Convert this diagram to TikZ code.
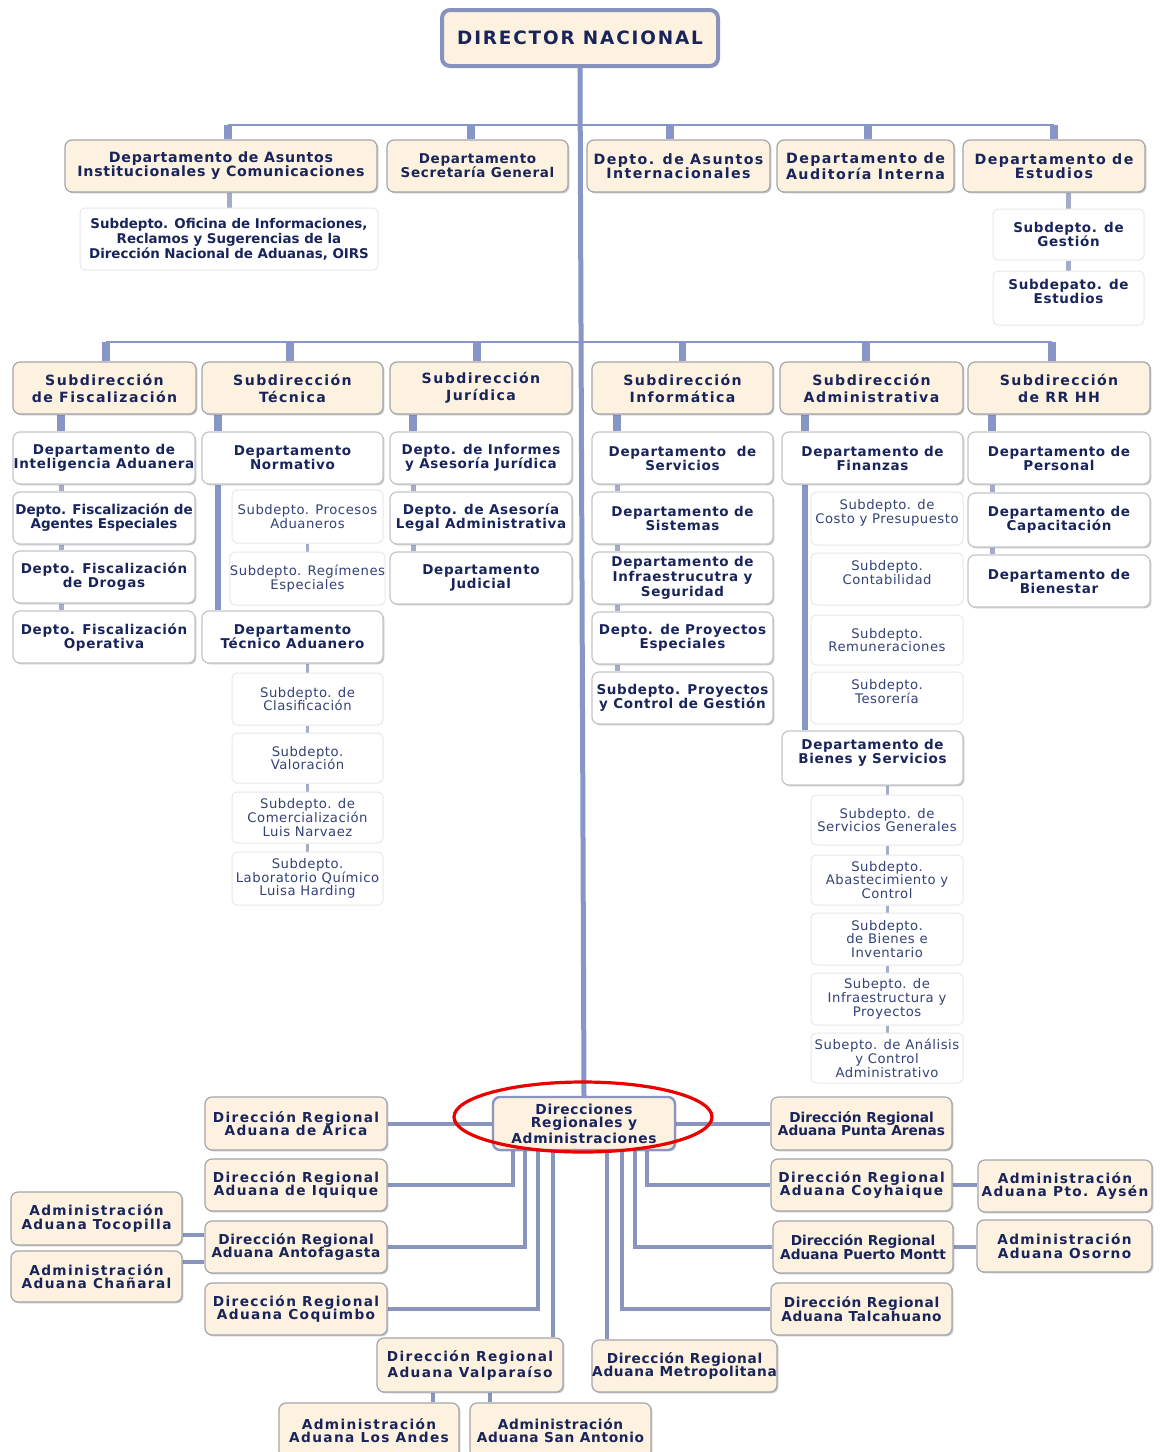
\documentclass[tikz,border=0pt]{standalone}
\usepackage{fontspec}
\setmainfont{DejaVu Sans}
\newfontfamily\trT{DejaVu Sans}
\newfontfamily\trM{DejaVu Sans}[LetterSpace=5]
\newfontfamily\trW{DejaVu Sans}[LetterSpace=10]
\newfontfamily\trR{DejaVu Sans}[LetterSpace=4]
\usetikzlibrary{backgrounds,shadows}
\definecolor{cream}{RGB}{253,242,224}
\definecolor{bord}{RGB}{165,165,172}
\definecolor{bordl}{RGB}{196,198,204}
\definecolor{faint}{RGB}{232,232,234}
\definecolor{navy}{RGB}{25,37,90}
\definecolor{subt}{RGB}{52,66,118}
\definecolor{lc}{RGB}{135,150,199}
\definecolor{lcl}{RGB}{165,172,202}
\definecolor{dirb}{RGB}{135,146,190}
\definecolor{conc}{RGB}{138,149,190}
\newcommand\sA{\fontsize{6.75}{7}\selectfont}
\newcommand\sW{\fontsize{7.1}{7}\selectfont}
\newcommand\sB{\fontsize{7.05}{8.5}\selectfont}
\newcommand\sC{\fontsize{6.85}{6.8}\selectfont}
\newcommand\sR{\fontsize{6.6}{6.9}\selectfont}
\newcommand\B[7]{\node[#2, minimum width={(#5-(#3))*0.5pt}, minimum height={(#6-(#4))*0.5pt}] (#1) at ({(#3+#5)/2},{(#4+#6)/2}) {#7};}
\newcommand\up{\\\mbox{}}
\tikzset{
 base/.style={inner sep=0pt, align=center, text=navy},
 shad/.style={drop shadow={shadow xshift=0.7pt, shadow yshift=-0.7pt, opacity=0.22, fill=black}},
 top/.style={base, fill=cream, draw=bord, line width=0.6pt, rounded corners=3.5pt, shad},
 dept/.style={base, fill=white, draw=bordl, line width=0.6pt, rounded corners=3.5pt, shad},
 subx/.style={base, fill=white, draw=faint, line width=0.5pt, rounded corners=2.5pt},
 fw/.style={font=\trW\bfseries\sW},
 fmw/.style={font=\trM\bfseries\sW},
 fm/.style={font=\trM\bfseries\sA},
 ft/.style={font=\trT\bfseries\sA},
 fr/.style={font=\trR\sR, text=subt},
 f2/.style={font=\trW\bfseries\sB},
 bw/.style={font=\trW\bfseries\sC},
 bm/.style={font=\trM\bfseries\sC},
 bt/.style={font=\trT\bfseries\sC},
 bus/.style={lc, line width=1pt},
 stubA/.style={lc, line width=3.8pt},
 stubB/.style={lcl, line width=2.5pt},
 longl/.style={lc, line width=3pt},
 mini/.style={lcl, line width=1.5pt},
 conn/.style={conc, line width=2pt},
}
\begin{document}
\begin{tikzpicture}[x=0.5pt,y=-0.5pt]
\useasboundingbox (0,0) rectangle (1161,1452);
% director
\node[base, fill=cream, draw=dirb, line width=2pt, rounded corners=4pt, shad, font=\trW\bfseries\fontsize{9.2}{9.5}\selectfont, minimum width=138pt, minimum height=28pt] (dir) at (580,38) {DIRECTOR NACIONAL};
% row 1
\B{asi}{top,fmw}{65}{140}{377}{192}{Departamento de Asuntos\\Institucionales y Comunicaciones}
\B{sec}{top,fm}{387}{140}{568}{192}{Departamento\\Secretaría General}
\B{int}{top,fw}{587}{140}{770}{192}{Depto. de Asuntos\\Internacionales}
\B{aud}{top,fw}{777}{140}{954}{192}{Departamento de\\Auditoría Interna}
\B{est}{top,fw}{963}{140}{1145}{192}{Departamento de\\Estudios}
\B{oirs}{subx,font=\trT\bfseries\fontsize{6.7}{7.5}\selectfont}{80}{208}{378}{270}{Subdepto. Oficina de Informaciones,\\Reclamos y Sugerencias de la\\Dirección Nacional de Aduanas, OIRS}
\B{gest}{subx,fm}{993}{209}{1144}{260}{Subdepto. de\\Gestión}
\B{sest}{subx,fm}{993}{271}{1144}{325}{Subdepato. de\\Estudios\up}
% row 2
\B{fis}{top,f2}{13}{362}{196}{414}{Subdirección\\de Fiscalización}
\B{tec}{top,f2}{202}{362}{383}{414}{Subdirección\\Técnica}
\B{jur}{top,f2}{390}{362}{572}{414}{Subdirección\\Jurídica}
\B{inf}{top,f2}{592}{362}{773}{414}{Subdirección\\Informática}
\B{adm}{top,f2}{780}{362}{963}{414}{Subdirección\\Administrativa}
\B{rrh}{top,f2}{968}{362}{1150}{414}{Subdirección\\de RR HH}
% fiscalizacion
\B{fd1}{dept,fm}{13}{432}{195}{484}{Departamento de\\Inteligencia Aduanera}
\B{fd2}{dept,ft}{13}{492}{195}{544}{Depto. Fiscalización de\\Agentes Especiales}
\B{fd3}{dept,fm}{13}{551}{195}{603}{Depto. Fiscalización\\de Drogas}
\B{fd4}{dept,fm}{13}{611}{195}{663}{Depto. Fiscalización\\Operativa}
% tecnica
\B{tn}{dept,fm}{202}{432}{383}{484}{Departamento\\Normativo}
\B{ts1}{subx,fr}{232}{490}{383}{543}{Subdepto. Procesos\\Aduaneros}
\B{ts2}{subx,fr}{232}{552}{383}{605}{Subdepto. Regímenes\\Especiales}
\B{tta}{dept,fm}{202}{611}{383}{663}{Departamento\\Técnico Aduanero}
\B{ts3}{subx,fr}{232}{673}{383}{725}{Subdepto. de\\Clasificación}
\B{ts4}{subx,fr}{232}{733}{383}{783}{Subdepto.\\Valoración}
\B{ts5}{subx,fr}{232}{792}{383}{843}{Subdepto. de\\Comercialización\\Luis Narvaez}
\B{ts6}{subx,fr}{232}{852}{383}{905}{Subdepto.\\Laboratorio Químico\\Luisa Harding}
% juridica
\B{jd1}{dept,fm}{390}{432}{572}{484}{Depto. de Informes\\y Asesoría Jurídica}
\B{jd2}{dept,fm}{390}{492}{572}{544}{Depto. de Asesoría\\Legal Administrativa}
\B{jd3}{dept,fm}{390}{552}{572}{604}{Departamento\\Judicial}
% informatica
\B{id1}{dept,fm}{592}{432}{773}{484}{Departamento~ de\\Servicios}
\B{id2}{dept,fm}{592}{492}{773}{544}{Departamento de\\Sistemas}
\B{id3}{dept,font=\trM\bfseries\fontsize{6.75}{6.3}\selectfont}{592}{552}{773}{604}{Departamento de\\Infraestrucutra y\\Seguridad}
\B{id4}{dept,fm}{592}{612}{773}{664}{Depto. de Proyectos\\Especiales}
\B{id5}{dept,fm}{592}{672}{773}{724}{Subdepto. Proyectos\\y Control de Gestión}
% administrativa
\B{af}{dept,fm}{782}{432}{963}{484}{Departamento de\\Finanzas}
\B{as1}{subx,fr}{811}{492}{963}{545}{Subdepto. de\\Costo y Presupuesto\up}
\B{as2}{subx,fr}{811}{553}{963}{605}{Subdepto.\\Contabilidad\up}
\B{as3}{subx,fr}{811}{615}{963}{665}{Subdepto.\\Remuneraciones}
\B{as4}{subx,fr}{811}{672}{963}{724}{Subdepto.\\Tesorería\up}
\B{ab}{dept,fm}{782}{731}{963}{785}{Departamento de\\Bienes y Servicios\up}
\B{ab1}{subx,fr}{811}{795}{963}{845}{Subdepto. de\\Servicios Generales}
\B{ab2}{subx,fr}{811}{855}{963}{905}{Subdepto.\\Abastecimiento y\\Control}
\B{ab3}{subx,fr}{811}{913}{963}{965}{Subdepto.\\de Bienes e\\Inventario}
\B{ab4}{subx,fr}{811}{973}{963}{1025}{Subepto. de\\Infraestructura y\\Proyectos}
\B{ab5}{subx,fr}{811}{1033}{963}{1083}{Subepto. de Análisis\\y Control\\Administrativo}
% rrhh
\B{rd1}{dept,fm}{968}{432}{1150}{484}{Departamento de\\Personal}
\B{rd2}{dept,fm}{968}{493}{1150}{547}{Departamento de\\Capacitación}
\B{rd3}{dept,fm}{968}{555}{1150}{607}{Departamento de\\Bienestar}
% regional
\B{dr}{top,draw=conc,line width=1.2pt,font=\trM\bfseries\fontsize{6.9}{6.7}\selectfont}{493}{1097}{675}{1150}{Direcciones\\Regionales y\\Administraciones}
\B{ari}{top,bw}{205}{1097}{387}{1150}{Dirección Regional\\Aduana de Arica}
\B{iq}{top,bw}{205}{1159}{387}{1211}{Dirección Regional\\Aduana de Iquique}
\B{an}{top,bm}{205}{1221}{387}{1273}{Dirección Regional\\Aduana Antofagasta}
\B{co}{top,bw}{205}{1283}{387}{1335}{Dirección Regional\\Aduana Coquimbo}
\B{va}{top,bw}{377}{1338}{563}{1392}{Dirección Regional\\Aduana Valparaíso}
\B{me}{top,bm}{592}{1340}{777}{1392}{Dirección Regional\\Aduana Metropolitana}
\B{pa}{top,bt}{771}{1097}{952}{1150}{Dirección Regional\\Aduana Punta Arenas}
\B{cy}{top,bw}{771}{1159}{952}{1211}{Dirección Regional\\Aduana Coyhaique}
\B{pm}{top,bt}{773}{1221}{953}{1273}{Dirección Regional\\Aduana Puerto Montt}
\B{ta}{top,bm}{771}{1283}{952}{1335}{Dirección Regional\\Aduana Talcahuano}
\B{toc}{top,bw}{11}{1192}{182}{1245}{Administración\\Aduana Tocopilla}
\B{cha}{top,bw}{11}{1251}{182}{1302}{Administración\\Aduana Chañaral}
\B{ays}{top,bw}{978}{1160}{1152}{1212}{Administración\\Aduana Pto. Aysén}
\B{oso}{top,bw}{977}{1220}{1152}{1272}{Administración\\Aduana Osorno}
\B{la}{top,bw}{279}{1403}{459}{1458}{Administración\\Aduana Los Andes}
\B{sa}{top,bm}{470}{1403}{651}{1458}{Administración\\Aduana San Antonio}
% ellipse
\draw[red!92!black, line width=1.6pt] (583,1117) ellipse [x radius=64.5pt, y radius=17.5pt];
\begin{scope}[on background layer]
\fill[white] (0,0) rectangle (1161,1452);
\draw[lc, line width=2.5pt] (dir.south) -- (dr.north);
% bus 1
\coordinate (b1) at (0,125);
\path ([xshift=3.5pt]asi.north) coordinate (s11) ([xshift=-3.25pt]sec.north) coordinate (s12)
      ([xshift=-4.25pt]int.north) coordinate (s13) ([xshift=1.25pt]aud.north) coordinate (s14)
      (est.north) coordinate (s15);
\draw[bus] (s11 |- b1) -- (s15 |- b1);
\foreach \s in {s11,s12,s13,s14,s15} \draw[stubA] (\s) -- (\s |- b1);
\draw[stubB] (oirs.north |- asi.south) -- (oirs.north);
\draw[stubB] (gest.north |- est.south) -- (gest.north);
\draw[stubB] (gest.south) -- (sest.north);
% bus 2
\coordinate (b2) at (0,342);
\path ([xshift=0.75pt]fis.north) coordinate (s21) ([xshift=-1.25pt]tec.north) coordinate (s22)
      ([xshift=-2pt]jur.north) coordinate (s23) (inf.north) coordinate (s24)
      ([xshift=-2.75pt]adm.north) coordinate (s25) ([xshift=-3.5pt]rrh.north) coordinate (s26);
\draw[bus] (s21 |- b2) -- (s26 |- b2);
\foreach \s in {s21,s22,s23,s24,s25,s26} \draw[stubA] (\s) -- (\s |- b2);
% columns
\coordinate (xF) at (61,0); \coordinate (xT) at (218,0); \coordinate (xJ) at (413,0);
\coordinate (xI) at (617,0); \coordinate (xA) at (805,0); \coordinate (xR) at (992,0);
\draw[stubA] (xF |- fis.south) -- (xF |- fd1.north);
\draw[stubB] (xF |- fd1.south) -- (xF |- fd2.north);
\draw[stubB] (xF |- fd2.south) -- (xF |- fd3.north);
\draw[stubB] (xF |- fd3.south) -- (xF |- fd4.north);
\draw[stubA] (xT |- tec.south) -- (xT |- tn.north);
\draw[longl] (xT |- tn.south) -- (xT |- tta.north);
\draw[mini] (ts1.south) -- (ts2.north);
\draw[mini] (ts3.north |- tta.south) -- (ts3.north);
\draw[mini] (ts3.south) -- (ts4.north);
\draw[mini] (ts4.south) -- (ts5.north);
\draw[mini] (ts5.south) -- (ts6.north);
\draw[stubA] (xJ |- jur.south) -- (xJ |- jd1.north);
\draw[stubB] (xJ |- jd1.south) -- (xJ |- jd2.north);
\draw[stubB] (xJ |- jd2.south) -- (xJ |- jd3.north);
\draw[stubA] (xI |- inf.south) -- (xI |- id1.north);
\draw[stubB] (xI |- id1.south) -- (xI |- id2.north);
\draw[stubB] (xI |- id2.south) -- (xI |- id3.north);
\draw[stubB] (xI |- id3.south) -- (xI |- id4.north);
\draw[stubB] (xI |- id4.south) -- (xI |- id5.north);
\draw[stubA] (xA |- adm.south) -- (xA |- af.north);
\draw[longl] (xA |- af.south) -- (xA |- ab.north);
\draw[mini] (ab1.north |- ab.south) -- (ab1.north);
\draw[mini] (ab1.south) -- (ab2.north);
\draw[mini] (ab2.south) -- (ab3.north);
\draw[mini] (ab3.south) -- (ab4.north);
\draw[mini] (ab4.south) -- (ab5.north);
\draw[stubA] (xR |- rrh.south) -- (xR |- rd1.north);
\draw[stubB] (xR |- rd1.south) -- (xR |- rd2.north);
\draw[stubB] (xR |- rd2.south) -- (xR |- rd3.north);
% regional connectors
\draw[conn] (ari.east) -- (dr.west);
\draw[conn] (dr.east) -- (pa.west);
\path ([xshift=-35.75pt]dr.south) coordinate (d1) ([xshift=-29.75pt]dr.south) coordinate (d2)
      ([xshift=-23.25pt]dr.south) coordinate (d3) ([xshift=-15.75pt]dr.south) coordinate (d4)
      ([xshift=11.25pt]dr.south) coordinate (d5) ([xshift=18.75pt]dr.south) coordinate (d6)
      ([xshift=25.25pt]dr.south) coordinate (d7) ([xshift=31.25pt]dr.south) coordinate (d8);
\draw[conn] (d1) |- (iq.east);
\draw[conn] (d2) |- (an.east);
\draw[conn] (d3) |- (co.east);
\draw[conn] (d4) -- (d4 |- va.north);
\draw[conn] (d5) -- (d5 |- me.north);
\draw[conn] (d6) |- (ta.west);
\draw[conn] (d7) |- (pm.west);
\draw[conn] (d8) |- (cy.west);
\path ([yshift=-8pt]toc.east) coordinate (t1) ([yshift=7.25pt]cha.east) coordinate (t2);
\draw[conn] (t1) -- (t1 -| an.west);
\draw[conn] (t2) -- (t2 -| an.west);
\draw[conn] (cy.east) -- (cy.east -| ays.west);
\draw[conn] (pm.east) -- (pm.east -| oso.west);
\path ([xshift=-18.5pt]va.south) coordinate (v1) ([xshift=10pt]va.south) coordinate (v2);
\draw[conn] (v1) -- (v1 |- la.north);
\draw[conn] (v2) -- (v2 |- sa.north);
\end{scope}
\end{tikzpicture}
\end{document}
